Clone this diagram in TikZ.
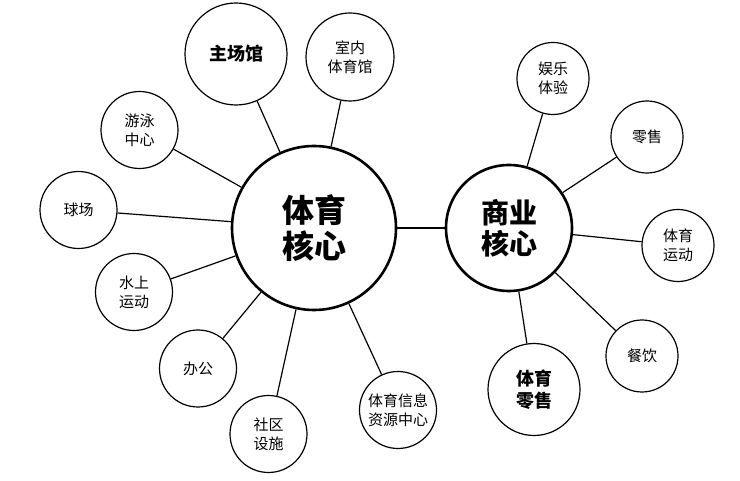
\documentclass[tikz,border=0pt]{standalone}
\usepackage{fontspec}
\setmainfont{Noto Sans CJK SC}
\usepackage{tikz}

\begin{document}
\begin{tikzpicture}[x=1pt,y=-1pt,
    core/.style={circle,draw,line width=2.6pt,inner sep=0pt,align=center,font=\bfseries\fontsize{32}{36}\selectfont},
    leaf/.style={circle,draw,line width=1.2pt,inner sep=0pt,align=center,minimum size=77pt,font=\fontsize{15}{19}\selectfont},
    link/.style={line width=1.2pt}]
                \useasboundingbox (0,0) rectangle (740,481);

                \node[core,minimum size=164pt] (sport) at (314,228) {体育\\核心};
                \node[core,minimum size=126pt,font=\bfseries\fontsize{28}{31}\selectfont] (biz) at (509,228) {商业\\核心};

                \node[leaf,minimum size=102pt,font=\bfseries\fontsize{18}{22}\selectfont] (arena) at (236,54) {主场馆};
                \node[leaf,minimum size=88pt] (indoor) at (350,57) {室内\\体育馆};
                \node[leaf] (swim) at (139.5,130) {游泳\\中心};
                \node[leaf] (court) at (78.5,210) {球场};
                \node[leaf] (water) at (134,292) {水上\\运动};
                \node[leaf] (office) at (198,368.5) {办公};
                \node[leaf] (community) at (268.5,434) {社区\\设施};
                \node[leaf] (info) at (398,410) {体育信息\\资源中心};

                \node[leaf,minimum size=72pt] (fun) at (553,78.5) {娱乐\\体验};
                \node[leaf,minimum size=72pt] (retail) at (647,137) {零售};
                \node[leaf,minimum size=72pt] (sportsrun) at (678,245.5) {体育\\运动};
                \node[leaf,minimum size=72pt] (dining) at (642,356) {餐饮};
                \node[leaf,minimum size=92pt,font=\bfseries\fontsize{18}{22}\selectfont] (sportretail) at (534,389.5) {体育\\零售};

                \draw[line width=2.6pt] (sport) -- (biz);
                \foreach \n in {arena,indoor,swim,court,water,office,community,info}
                    \draw[link] (sport) -- (\n);
                \foreach \n in {fun,retail,sportsrun,dining,sportretail}
                    \draw[link] (biz) -- (\n);
            \end{tikzpicture}
\end{document}
